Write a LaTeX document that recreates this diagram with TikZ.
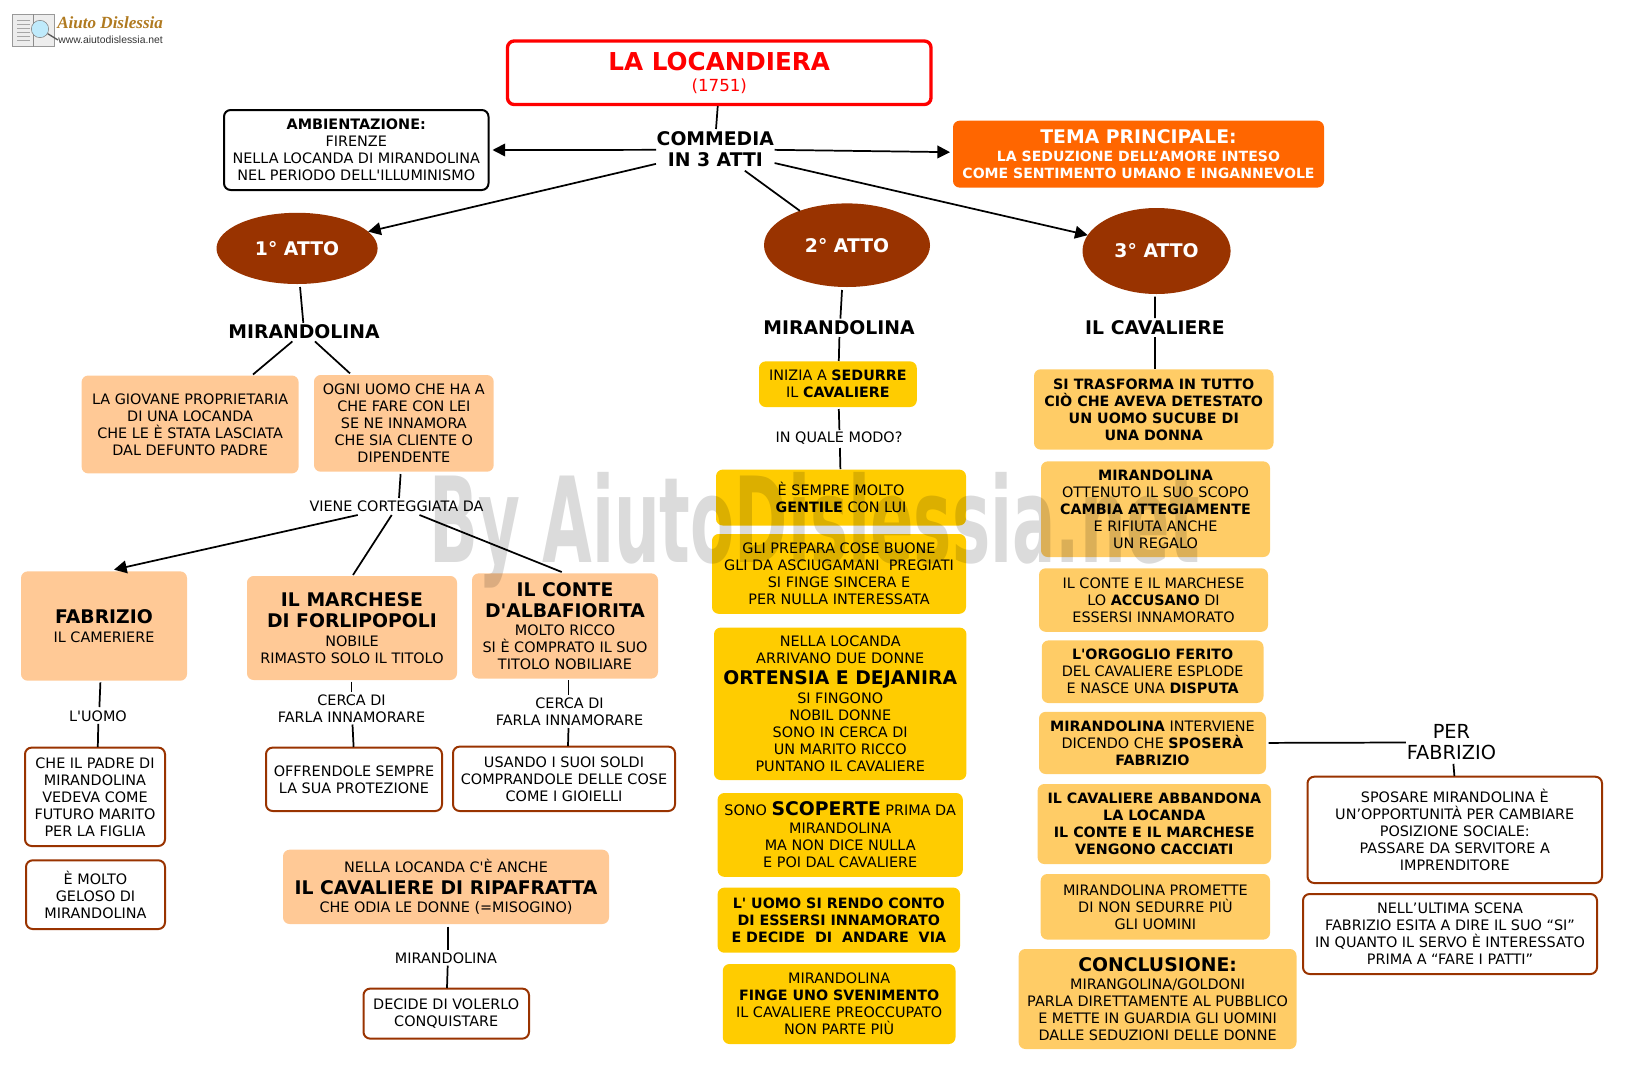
\documentclass[tikz,border=0pt]{standalone}
\usepackage{fontspec}
\newfontfamily\vf{DejaVu Sans}
\newfontfamily\wmsans{Liberation Sans}
\newfontfamily\logofont{Liberation Serif}
\usetikzlibrary{shapes.geometric,arrows.meta}
\definecolor{peach}{HTML}{FFC996}
\definecolor{gold}{HTML}{FFCC00}
\definecolor{lgold}{HTML}{FFCC66}
\definecolor{rust}{HTML}{993300}
\definecolor{tema}{HTML}{FF6600}
\definecolor{logogold}{HTML}{B07A20}
\newcommand\nt{\vf\fontsize{10.8}{12.75}\selectfont}
\newcommand\bg[1]{{\fontsize{14.1}{16}\selectfont\bfseries #1}}
\newcommand\tb[1]{{\fontsize{10.7}{12.75}\selectfont\bfseries #1}}
\newcommand\tw[1]{{\fontsize{10.55}{12.75}\selectfont\bfseries #1}}
\newcommand\bx[7]{\node[#2,minimum width={(#5-#3)*0.75pt},minimum height={(#6-#4)*0.75pt}] (#1) at ({(#3+#5)/2},{(#4+#6)/2}) {#7};}
\tikzset{
 base/.style={inner sep=0pt,outer sep=0pt,align=center,font=\nt,text=black,execute at begin node={\rule{0pt}{9.6pt}}},
 rbox/.style={base,rectangle,rounded corners=5pt},
 peachbox/.style={rbox,fill=peach},
 goldbox/.style={rbox,fill=gold},
 lgoldbox/.style={rbox,fill=lgold},
 rustbox/.style={rbox,fill=white,draw=rust,line width=1.5pt},
 blackbox/.style={rbox,fill=white,draw=black,line width=1.5pt},
 titlebox/.style={rbox,fill=white,draw=red,line width=2.5pt},
 orangebox/.style={rbox,fill=tema,text=white},
 atto/.style={base,ellipse,fill=rust,text=white},
 label/.style={base},
 ln/.style={draw=black,line width=1.3pt},
 arr/.style={ln,-{Triangle[length=9.5pt,width=9.5pt]}},
}
\begin{document}
\begin{tikzpicture}[x=0.75pt,y=-0.75pt]
\useasboundingbox (0,0) rectangle (1641,1071);
% logo
\node[draw=black!40,fill=black!7,line width=0.6pt,minimum width=31pt,minimum height=24pt,inner sep=0pt] (logobook) at (33.5,30.5) {};
\draw[black!45,line width=0.5pt] (logobook.north) -- (logobook.south);
\foreach \yy in {20,24,28,32,36,40} {\draw[black!35,line width=0.5pt] (17,\yy) -- (30,\yy);}
\node[circle,draw=black!50,fill=cyan!25,minimum size=13pt,inner sep=0pt] (logolens) at (40,29) {};
\draw[black!65,line width=1pt] (logolens) -- (58,40);
\node[anchor=west,inner sep=0pt,text=logogold,font=\logofont\fontsize{12.8}{14}\selectfont\bfseries\itshape] (logotext) at (57,23) {Aiuto Dislessia};
\node[anchor=west,inner sep=0pt,text=black!80,font=\wmsans\fontsize{7.8}{9}\selectfont] (logourl) at (58,40) {www.aiutodislessia.net};
% top
\bx{title}{titlebox}{507.5}{41}{931}{104.5}{{\fontsize{18.5}{20}\selectfont\bfseries\textcolor{red}{LA LOCANDIERA}}\\[3pt]{\fontsize{12.5}{14}\selectfont\textcolor{red}{(1751)}}}
\bx{ambient}{blackbox}{224}{110}{488.5}{190}{\textbf{AMBIENTAZIONE:}\\FIRENZE\\NELLA LOCANDA DI MIRANDOLINA\\NEL PERIODO DELL'ILLUMINISMO}
\bx{comm}{label}{656}{128}{774.6}{169.7}{\bg{COMMEDIA}\\[3pt]\bg{IN 3 ATTI}}
\bx{temab}{orangebox}{953}{120.7}{1324}{187.6}{\bg{TEMA PRINCIPALE:}\\[1pt]\tw{LA SEDUZIONE DELL’AMORE INTESO}\\\tw{COME SENTIMENTO UMANO E INGANNEVOLE}}
\bx{e1}{atto}{216.5}{212.8}{377.6}{284}{\bg{1° ATTO}}
\bx{e2}{atto}{764}{203.4}{930}{287}{\bg{2° ATTO}}
\bx{e3}{atto}{1082.5}{208}{1230.6}{294}{\bg{3° ATTO}}
% act 1
\bx{mirA}{label}{229}{322.8}{379}{341.4}{\bg{MIRANDOLINA}}
\bx{giovane}{peachbox}{81.6}{375.5}{298.6}{473.4}{LA GIOVANE PROPRIETARIA\\DI UNA LOCANDA\\CHE LE È STATA LASCIATA\\DAL DEFUNTO PADRE}
\bx{ogni}{peachbox}{314}{375}{493.7}{471.7}{OGNI UOMO CHE HA A\\CHE FARE CON LEI\\SE NE INNAMORA\\CHE SIA CLIENTE O\\DIPENDENTE}
\bx{viene}{label}{308}{496.5}{485}{513.5}{VIENE CORTEGGIATA DA}
\bx{fabrizio}{peachbox}{21}{571.4}{187}{680.7}{\bg{FABRIZIO}\\[1pt]IL CAMERIERE}
\bx{marchese}{peachbox}{247}{576}{457}{680}{\bg{IL MARCHESE}\\[3pt]\bg{DI FORLIPOPOLI}\\[1pt]NOBILE\\RIMASTO SOLO IL TITOLO}
\bx{conte}{peachbox}{472}{573.4}{658}{678.6}{\bg{IL CONTE}\\[3pt]\bg{D'ALBAFIORITA}\\[1pt]MOLTO RICCO\\SI È COMPRATO IL SUO\\TITOLO NOBILIARE}
\bx{luomo}{label}{70.5}{707}{125.5}{723.8}{L'UOMO}
\bx{padre}{rustbox}{25}{747.6}{165}{846}{CHE IL PADRE DI\\MIRANDOLINA\\VEDEVA COME\\FUTURO MARITO\\PER LA FIGLIA}
\bx{geloso}{rustbox}{26}{860.3}{165}{929}{È MOLTO\\GELOSO DI\\MIRANDOLINA}
\bx{cercaA}{label}{278}{692}{425}{724.5}{CERCA DI\\FARLA INNAMORARE}
\bx{offr}{rustbox}{266}{747.6}{442}{811}{OFFRENDOLE SEMPRE\\LA SUA PROTEZIONE}
\bx{cercaB}{label}{496}{695}{643}{728}{CERCA DI\\FARLA INNAMORARE}
\bx{usando}{rustbox}{453}{746.6}{675}{811}{USANDO I SUOI SOLDI\\COMPRANDOLE DELLE COSE\\COME I GIOIELLI}
\bx{ripa}{peachbox}{283}{849.7}{609}{924}{NELLA LOCANDA C'È ANCHE\\[3.5pt]\bg{IL CAVALIERE DI RIPAFRATTA}\\[1pt]CHE ODIA LE DONNE (=MISOGINO)}
\bx{mirC}{label}{394.5}{949}{497.5}{964.5}{MIRANDOLINA}
\bx{decide}{rustbox}{363.5}{988.6}{529}{1038.6}{DECIDE DI VOLERLO\\CONQUISTARE}
% act 2
\bx{mirB}{label}{764}{318.6}{914}{337}{\bg{MIRANDOLINA}}
\bx{inizia}{goldbox}{759}{361.4}{916.8}{407}{INIZIA A \tb{SEDURRE}\\IL \tb{CAVALIERE}}
\bx{quale}{label}{775}{428}{903}{446}{IN QUALE MODO?}
\bx{sempre}{goldbox}{716}{469.6}{966}{525.5}{È SEMPRE MOLTO\\\tb{GENTILE} CON LUI}
\bx{prepara}{goldbox}{712}{534}{966}{613.8}{GLI PREPARA COSE BUONE\\GLI DA ASCIUGAMANI~~PREGIATI\\SI FINGE SINCERA E\\PER NULLA INTERESSATA}
\bx{ortensia}{goldbox}{714}{627.6}{966.4}{780}{NELLA LOCANDA\\ARRIVANO DUE DONNE\\[3pt]\bg{ORTENSIA E DEJANIRA}\\[1pt]SI FINGONO\\NOBIL DONNE\\SONO IN CERCA DI\\UN MARITO RICCO\\PUNTANO IL CAVALIERE}
\bx{scoperte}{goldbox}{717.6}{793}{962.8}{876.8}{SONO \bg{SCOPERTE} PRIMA DA\\[1pt]MIRANDOLINA\\MA NON DICE NULLA\\E POI DAL CAVALIERE}
\bx{rendo}{goldbox}{717.6}{887.6}{960}{952.7}{\tb{L' UOMO SI RENDO CONTO}\\\tb{DI ESSERSI INNAMORATO}\\\tb{E DECIDE~~DI~~ANDARE~~VIA}}
\bx{finge}{goldbox}{722.8}{964}{955.5}{1044}{MIRANDOLINA\\\tb{FINGE UNO SVENIMENTO}\\IL CAVALIERE PREOCCUPATO\\NON PARTE PIÙ}
% act 3
\bx{cav}{label}{1084}{318}{1226}{337}{\bg{IL CAVALIERE}}
\bx{trasf}{lgoldbox}{1034}{369.3}{1273.5}{449.6}{\tb{SI TRASFORMA IN TUTTO}\\\tb{CIÒ CHE AVEVA DETESTATO}\\\tb{UN UOMO SUCUBE DI}\\\tb{UNA DONNA}}
\bx{ottenuto}{lgoldbox}{1041}{461.4}{1270}{557}{\tb{MIRANDOLINA}\\OTTENUTO IL SUO SCOPO\\\tb{CAMBIA ATTEGIAMENTE}\\E RIFIUTA ANCHE\\UN REGALO}
\bx{accusano}{lgoldbox}{1039}{568.3}{1268}{631.8}{IL CONTE E IL MARCHESE\\LO \tb{ACCUSANO} DI\\ESSERSI INNAMORATO}
\bx{orgoglio}{lgoldbox}{1041.8}{640.4}{1263.5}{703}{\tb{L'ORGOGLIO FERITO}\\DEL CAVALIERE ESPLODE\\E NASCE UNA \tb{DISPUTA}}
\bx{interv}{lgoldbox}{1039}{711.8}{1266}{774}{\tb{MIRANDOLINA} INTERVIENE\\DICENDO CHE \tb{SPOSERÀ}\\\tb{FABRIZIO}}
\bx{abband}{lgoldbox}{1037.6}{784}{1271}{864}{\tb{IL CAVALIERE ABBANDONA}\\\tb{LA LOCANDA}\\\tb{IL CONTE E IL MARCHESE}\\\tb{VENGONO CACCIATI}}
\bx{promette}{lgoldbox}{1040.7}{874}{1270}{939.6}{MIRANDOLINA PROMETTE\\DI NON SEDURRE PIÙ\\GLI UOMINI}
\bx{concl}{lgoldbox}{1018.7}{949}{1296.5}{1049}{\bg{CONCLUSIONE:}\\[1pt]MIRANGOLINA/GOLDONI\\PARLA DIRETTAMENTE AL PUBBLICO\\E METTE IN GUARDIA GLI UOMINI\\DALLE SEDUZIONI DELLE DONNE}
\bx{per}{label}{1405.8}{721.2}{1497}{763.8}{{\fontsize{14.5}{16}\selectfont PER}\\[3pt]{\fontsize{14.5}{16}\selectfont FABRIZIO}}
\bx{sposare}{rustbox}{1307.5}{776.7}{1602}{883}{SPOSARE MIRANDOLINA È\\UN’OPPORTUNITÀ PER CAMBIARE\\POSIZIONE SOCIALE:\\PASSARE DA SERVITORE A\\IMPRENDITORE}
\bx{ultima}{rustbox}{1303}{894}{1597}{974}{NELL’ULTIMA SCENA\\FABRIZIO ESITA A DIRE IL SUO “SI”\\IN QUANTO IL SERVO È INTERESSATO\\PRIMA A “FARE I PATTI”}
% watermark
\begin{scope}[blend mode=multiply]
\node[anchor=base west,inner sep=0pt,xscale=0.5415,text=black!14,font=\vf\bfseries\fontsize{89}{100}\selectfont] (wm) at (429,562) {By AiutoDislessia.net};
\end{scope}
% connectors
\draw[ln] ([shift={(-1.5,1.5)}]title.south) -- ([shift={(0.7,1)}]comm.north);
\draw[arr] ([shift={(0,1)}]comm.west) -- ([shift={(4,0)}]ambient.east);
\draw[arr] ([shift={(0,1)}]comm.east) -- ([shift={(-3,-2)}]temab.west);
\draw[arr] ([shift={(0,15)}]comm.west) -- (e1);
\draw[ln] ([shift={(29.5,1)}]comm.south) -- (e2);
\draw[arr] ([shift={(0,14.2)}]comm.east) -- (e3);
\draw[ln] ([shift={(3,3)}]e1.south) -- ([shift={(-0.7,0)}]mirA.north);
\draw[ln] ([shift={(-11.6,0)}]mirA.south) -- ([shift={(62.9,-1)}]giovane.north);
\draw[ln] ([shift={(10.9,0)}]mirA.south) -- ([shift={(-53.85,-1.6)}]ogni.north);
\draw[ln] ([shift={(-3.25,2.3)}]ogni.south) -- ([shift={(2.5,1.5)}]viene.north);
\draw[arr] ([shift={(-38.8,1.5)}]viene.south) -- ([shift={(10,-1.7)}]fabrizio.north);
\draw[ln] ([shift={(-4.8,1.5)}]viene.south) -- ([shift={(1,-1)}]marchese.north);
\draw[ln] ([shift={(23,1.5)}]viene.south) -- ([shift={(-3.3,-1.4)}]conte.north);
\draw[ln] ([shift={(-3.6,1.7)}]fabrizio.south) -- ([shift={(1.4,0)}]luomo.north);
\draw[ln] ([shift={(0.3,0)}]luomo.south) -- ([shift={(2.8,-0.6)}]padre.north);
\draw[ln] ([shift={(-0.5,1.7)}]marchese.south) -- (cercaA.north);
\draw[ln] ([shift={(1,0)}]cercaA.south) -- ([shift={(-0.4,-0.6)}]offr.north);
\draw[ln] ([shift={(3.5,1.7)}]conte.south) -- ([shift={(-1,0)}]cercaB.north);
\draw[ln] ([shift={(-1,0)}]cercaB.south) -- ([shift={(4,-0.6)}]usando.north);
\draw[ln] ([shift={(1.7,2.5)}]ripa.south) -- ([shift={(1.7,1)}]mirC.north);
\draw[ln] ([shift={(1.7,1)}]mirC.south) -- ([shift={(0.75,-0.6)}]decide.north);
\draw[ln] ([shift={(-5,3)}]e2.south) -- ([shift={(1.4,0)}]mirB.north);
\draw[ln] ([shift={(0.4,0)}]mirB.south) -- ([shift={(0.9,-0.4)}]inizia.north);
\draw[ln] ([shift={(0.9,2)}]inizia.south) -- ([shift={(0.4,2)}]quale.north);
\draw[ln] ([shift={(0.9,2)}]quale.south) -- ([shift={(-0.6,-0.6)}]sempre.north);
\draw[ln] ([shift={(-1.5,2.5)}]e3.south) -- (cav.north);
\draw[ln] (cav.south) -- ([shift={(1.25,-0.3)}]trasf.north);
\draw[ln] ([shift={(2.7,0)}]interv.east) -- (per.west);
\draw[ln] ([shift={(2,0)}]per.south) -- ([shift={(-0.35,-0.7)}]sposare.north);
\end{tikzpicture}
\end{document}
